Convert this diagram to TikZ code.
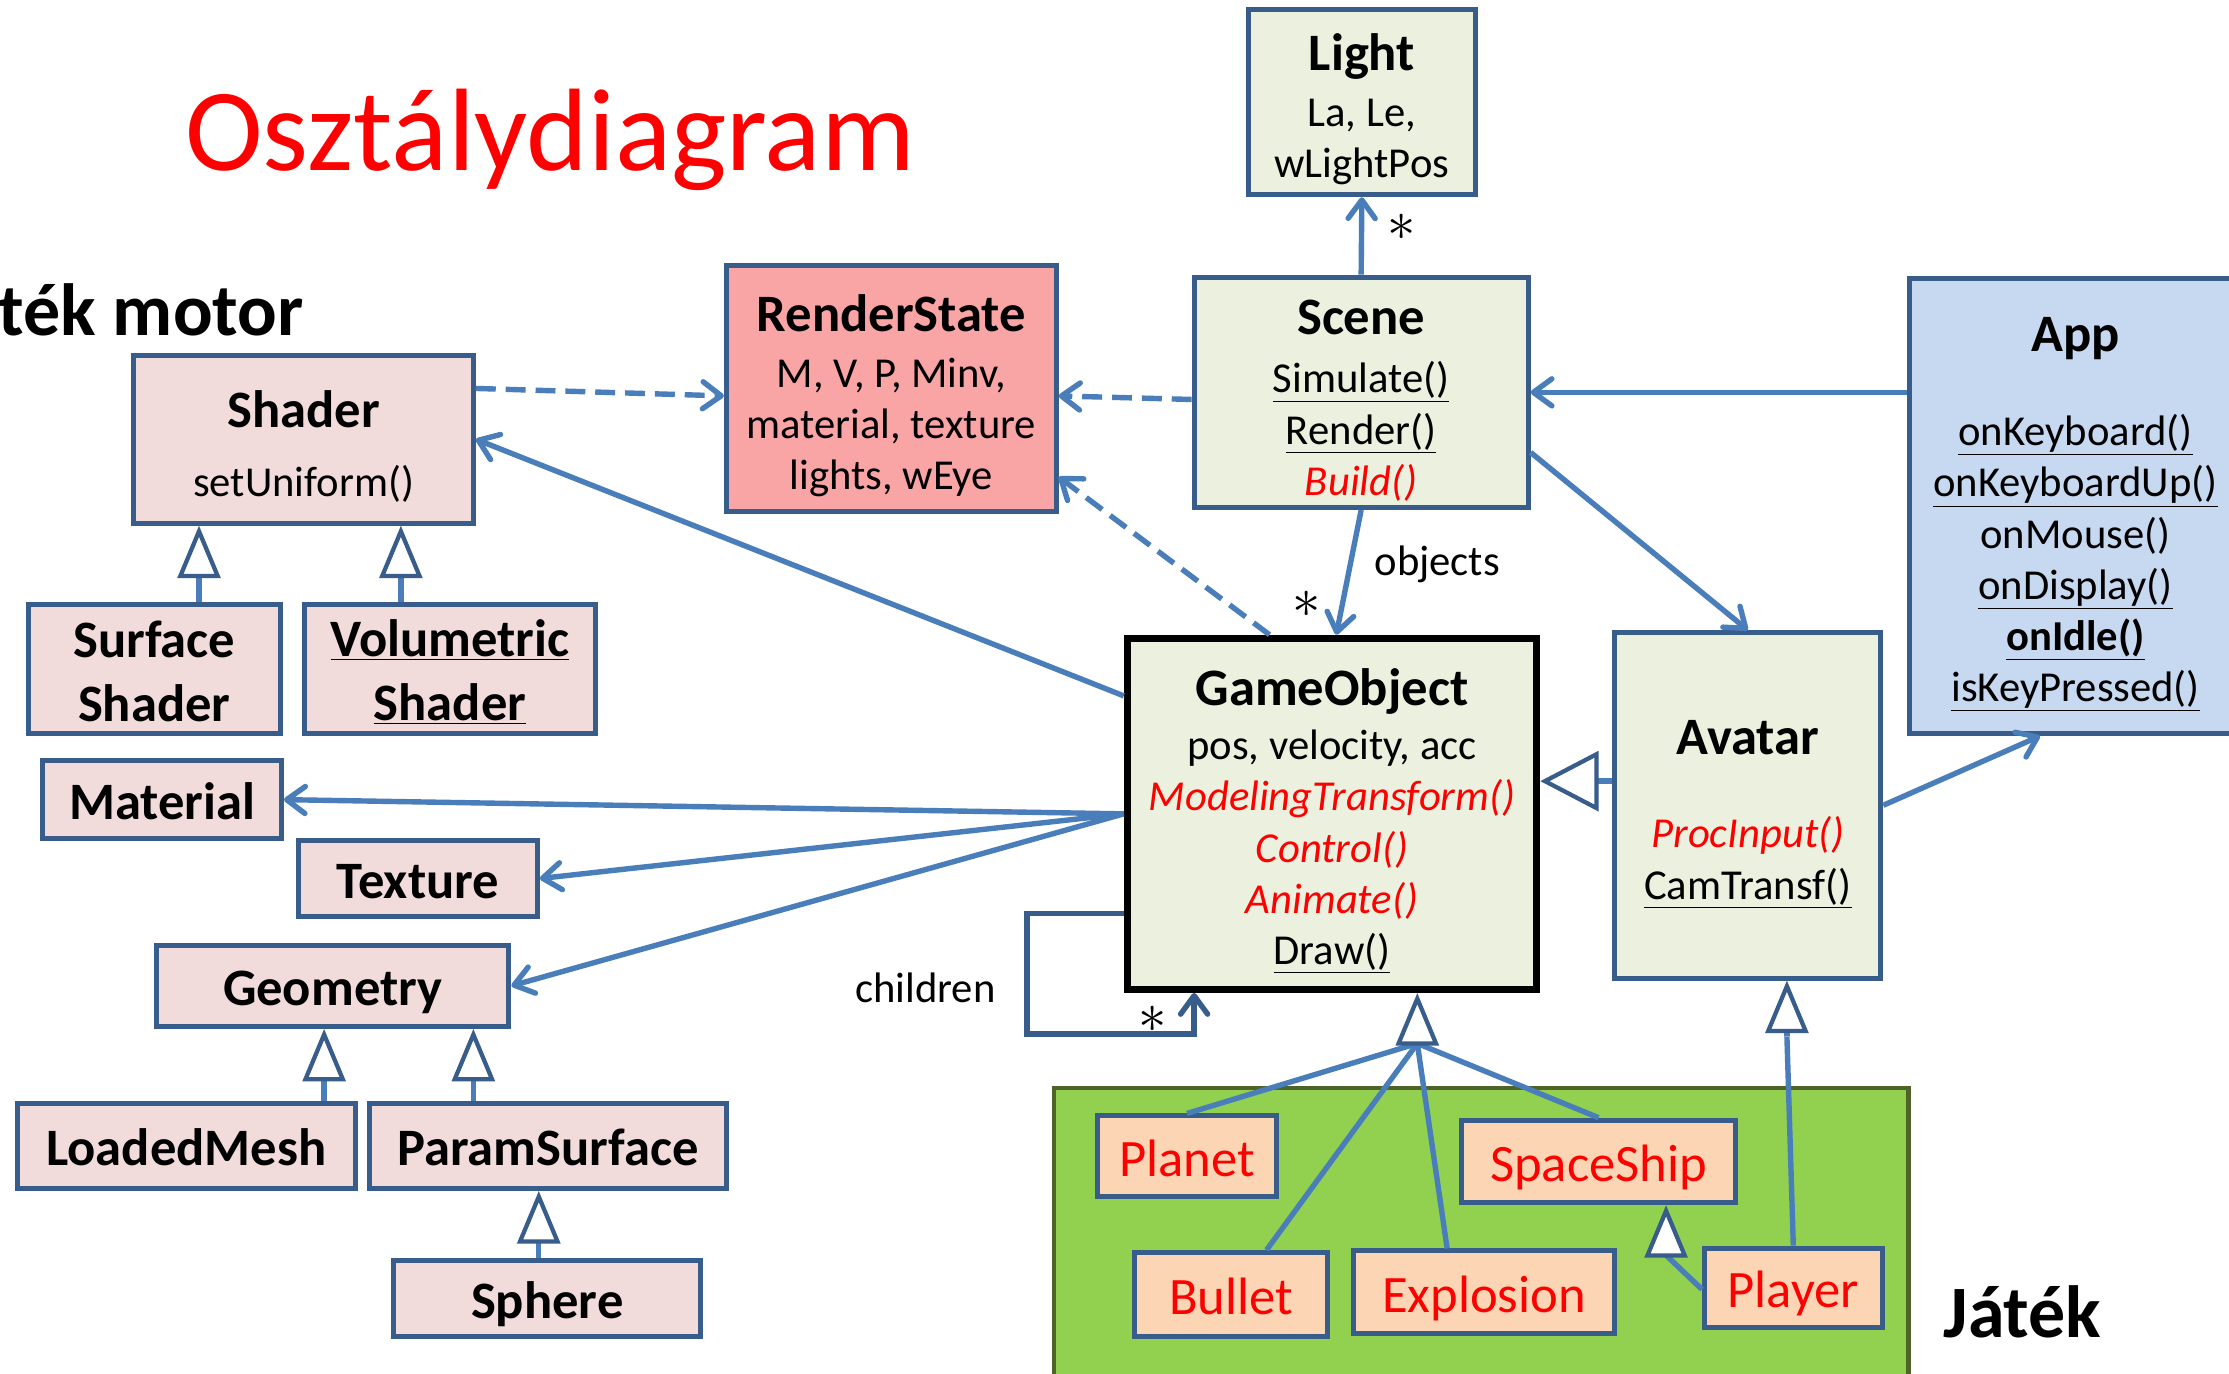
\documentclass[tikz,border=0pt]{standalone}
\usepackage{fontspec}
\setmainfont{Carlito}
\usetikzlibrary{arrows.meta,calc}
\definecolor{connc}{HTML}{4A7EBB}
\definecolor{bordc}{HTML}{385D8A}
\definecolor{tric}{HTML}{385D8A}
\definecolor{pinkf}{HTML}{F2DCDB}
\definecolor{greenf}{HTML}{EBF1DE}
\definecolor{rsf}{HTML}{FAA5A5}
\definecolor{appf}{HTML}{C6D9F1}
\definecolor{orf}{HTML}{FCD5B5}
\definecolor{panelf}{HTML}{92D050}
\definecolor{paneld}{HTML}{4F6228}
\definecolor{redt}{HTML}{FF0000}
\newcommand\bt[1]{{\fontsize{37}{44}\selectfont\bfseries\rule{0pt}{36pt}#1}}
\newcommand\rit[1]{\textcolor{redt}{\itshape #1}}
\tikzset{
  box/.style={draw=bordc, line width=3.5pt, inner sep=0pt, align=center, font=\fontsize{30}{36}\selectfont},
  pinkbox/.style={box, fill=pinkf},
  pinktwo/.style={box, fill=pinkf, font=\fontsize{37}{45}\selectfont\bfseries},
  pinkbold/.style={box, fill=pinkf, font=\fontsize{37}{45}\selectfont\bfseries, text height=34pt, text depth=6pt},
  greenbox/.style={box, fill=greenf},
  orbox/.style={box, fill=orf, text=redt, font=\fontsize{37}{44}\selectfont, text height=34pt, text depth=6pt},
  conn/.style={draw=connc, line width=3.8pt},
  assoc/.style={conn, -{Straight Barb[length=13pt,width=19pt,round]}},
  dep/.style={assoc, dash pattern=on 14pt off 7pt},
  inh/.style={conn, -{Triangle[length=37pt,width=30pt,fill=white,color=tric,line width=3pt]}},
  inhbig/.style={conn, -{Triangle[length=41pt,width=42pt,fill=white,color=tric,line width=3pt]}},
  lbl/.style={inner sep=0pt, font=\fontsize{30}{36}\selectfont},
  starlbl/.style={inner sep=0pt, scale=1.6, font=\fontsize{24}{28}\selectfont},
}
\begin{document}
\begin{tikzpicture}[x=1pt,y=-1pt]
\clip (0,0) rectangle (1568,966);
\fill[white] (0,0) rectangle (1568,966);

% titles
\node[anchor=base west, inner sep=0pt, text=redt, font=\fontsize{82.5}{90}\selectfont] (title) at (130,120) {Osztálydiagram};
\node[anchor=base west, inner sep=0pt, font=\fontsize{52}{60}\selectfont\bfseries] (motor) at (-1,236) {ték motor};
\node[anchor=base west, inner sep=0pt, font=\fontsize{52}{60}\selectfont\bfseries] (jatek) at (1367,941) {Játék};

% game panel
\node[draw=paneld, fill=panelf, line width=3pt, minimum width=601pt, minimum height=220pt, anchor=north west, inner sep=0pt] (panel) at (740,764) {};

% boxes
\node[greenbox, minimum width=160pt, minimum height=130pt] (light) at (958,72) {\bt{Light}\\[3pt] La, Le,\\ wLightPos};
\node[greenbox, minimum width=235pt, minimum height=162pt] (scene) at (957.5,276) {\bt{Scene}\\[5pt] \underline{Simulate()}\\ \underline{Render()}\\ \rit{Build()}};
\node[box, fill=rsf, minimum width=232pt, minimum height=173pt] (renderstate) at (627,273.5) {\bt{RenderState}\\[3pt] M, V, P, Minv,\\ material, texture\\ lights, wEye};
\node[box, fill=appf, minimum width=234pt, minimum height=320pt] (app) at (1460,356) {\bt{App}\\[30pt] \underline{onKeyboard()}\\ \underline{onKeyboardUp()}\\ onMouse()\\ \underline{onDisplay()}\\ \underline{\textbf{onIdle()}}\\ \underline{isKeyPressed()}};
\node[pinkbox, minimum width=239pt, minimum height=118pt] (shader) at (213.5,309) {\bt{Shader}\\[12pt] setUniform()};
\node[pinktwo, minimum width=177pt, minimum height=91pt] (surface) at (108.5,470.5) {\rule{0pt}{30pt}Surface\\ Shader};
\node[pinktwo, minimum width=205pt, minimum height=91pt] (volumetric) at (316.5,470.5) {\rule{0pt}{30pt}\underline{Volumetric}\\ \underline{Shader}};
\node[pinkbold, minimum width=168pt, minimum height=55pt] (material) at (114,562.5) {Material};
\node[pinkbold, minimum width=168pt, minimum height=54pt] (texture) at (294,618) {Texture};
\node[pinkbold, minimum width=248pt, minimum height=57pt] (geometry) at (234,693.5) {Geometry};
\node[pinkbold, minimum width=238pt, minimum height=60pt] (loadedmesh) at (131,806) {LoadedMesh};
\node[pinkbold, minimum width=251pt, minimum height=60pt] (paramsurface) at (385.5,806) {ParamSurface};
\node[pinkbold, minimum width=216pt, minimum height=53pt] (sphere) at (385,913.5) {Sphere};
\node[greenbox, draw=black, line width=5pt, minimum width=288pt, minimum height=247pt] (gameobject) at (937,572.5) {\bt{GameObject}\\[2pt] pos, velocity, acc\\ \rit{ModelingTransform()}\\ \rit{Control()}\\ \rit{Animate()}\\ \underline{Draw()}};
\node[greenbox, minimum width=187pt, minimum height=243pt] (avatar) at (1229.5,566.5) {\bt{Avatar}\\[30pt] \rit{ProcInput()}\\ \underline{CamTransf()}};
\node[orbox, minimum width=126pt, minimum height=57pt] (planet) at (835,813.5) {Planet};
\node[orbox, minimum width=193pt, minimum height=58pt] (spaceship) at (1124.5,817) {SpaceShip};
\node[orbox, minimum width=136pt, minimum height=59pt] (bullet) at (866,910.5) {Bullet};
\node[orbox, minimum width=184pt, minimum height=58pt] (explosion) at (1044,909) {Explosion};
\node[orbox, minimum width=125pt, minimum height=56pt] (player) at (1261.5,906) {Player};

% labels
\node[lbl] (objlbl) at (1011,397) {objects};
\node[lbl] (chlbl) at (651,695) {children};
\node[starlbl] (star1) at (986,160) {$\ast$};
\node[starlbl] (star2) at (919,425) {$\ast$};
\node[starlbl] (star3) at (811,717) {$\ast$};

% dependencies (dashed)
\draw[dep] ([yshift=-25pt]shader.north east) -- ([yshift=-5pt]renderstate.west);
\draw[dep] ([yshift=-5pt]scene.west) -- ([yshift=-5pt]renderstate.east);
\draw[dep] ([xshift=-44pt]gameobject.north) -- ([yshift=-62pt]renderstate.east);

% associations
\draw[assoc] (scene.north) -- (light.south);
\draw[assoc] (scene.south) -- ([xshift=3pt]gameobject.north);
\draw[assoc] (app.west |- scene.east) -- (scene.east);
\draw[assoc] ([yshift=-125pt]scene.north east) -- (avatar.north);
\draw[assoc] (avatar.east) -- ([xshift=-25pt]app.south);
\draw[assoc] ([yshift=-43pt]gameobject.north west) -- (shader.east);
\draw[assoc] (gameobject.west) -- (material.east);
\draw[assoc] (gameobject.west) -- (texture.east);
\draw[assoc] (gameobject.west) -- (geometry.east);
\draw[assoc, draw=bordc] ([yshift=-196pt]gameobject.north west) -- ++(-68,0) -- ++(0,85) -| ([xshift=-97pt]gameobject.south);

% inheritance
\coordinate (s1) at ([xshift=31.5pt]surface.north);
\draw[inh] (s1) -- (s1 |- shader.south);
\coordinate (s2) at ([xshift=-34.5pt]volumetric.north);
\draw[inh] (s2) -- (s2 |- shader.south);
\coordinate (g1) at ([xshift=97pt]loadedmesh.north);
\draw[inh] (g1) -- (g1 |- geometry.south);
\coordinate (g2) at ([xshift=-52.5pt]paramsurface.north);
\draw[inh] (g2) -- (g2 |- geometry.south);
\coordinate (p1) at ([xshift=-6pt]sphere.north);
\draw[inh] (p1) -- (p1 |- paramsurface.south);

\coordinate (avl) at ([yshift=17pt]avatar.west);
\draw[inhbig] (avl) -- (avl -| gameobject.east);

\coordinate (gob) at (997,734);
\draw[conn] (planet.north) -- (gob);
\draw[conn] ([xshift=25pt]bullet.north) -- (gob);
\draw[conn] ([xshift=-26pt]explosion.north) -- (gob);
\draw[conn] (spaceship.north) -- (gob);
\draw[inh] (gob) -- (gob |- gameobject.south);

\coordinate (avb) at (1257,729);
\draw[conn] (player.north) -- (avb);
\draw[inh] (avb) -- (avb |- avatar.south);

\coordinate (ssb) at (1172,883);
\draw[conn] ([yshift=-1pt]player.west) -- (ssb);
\draw[inh] (ssb) -- (ssb |- spaceship.south);
\end{tikzpicture}
\end{document}
